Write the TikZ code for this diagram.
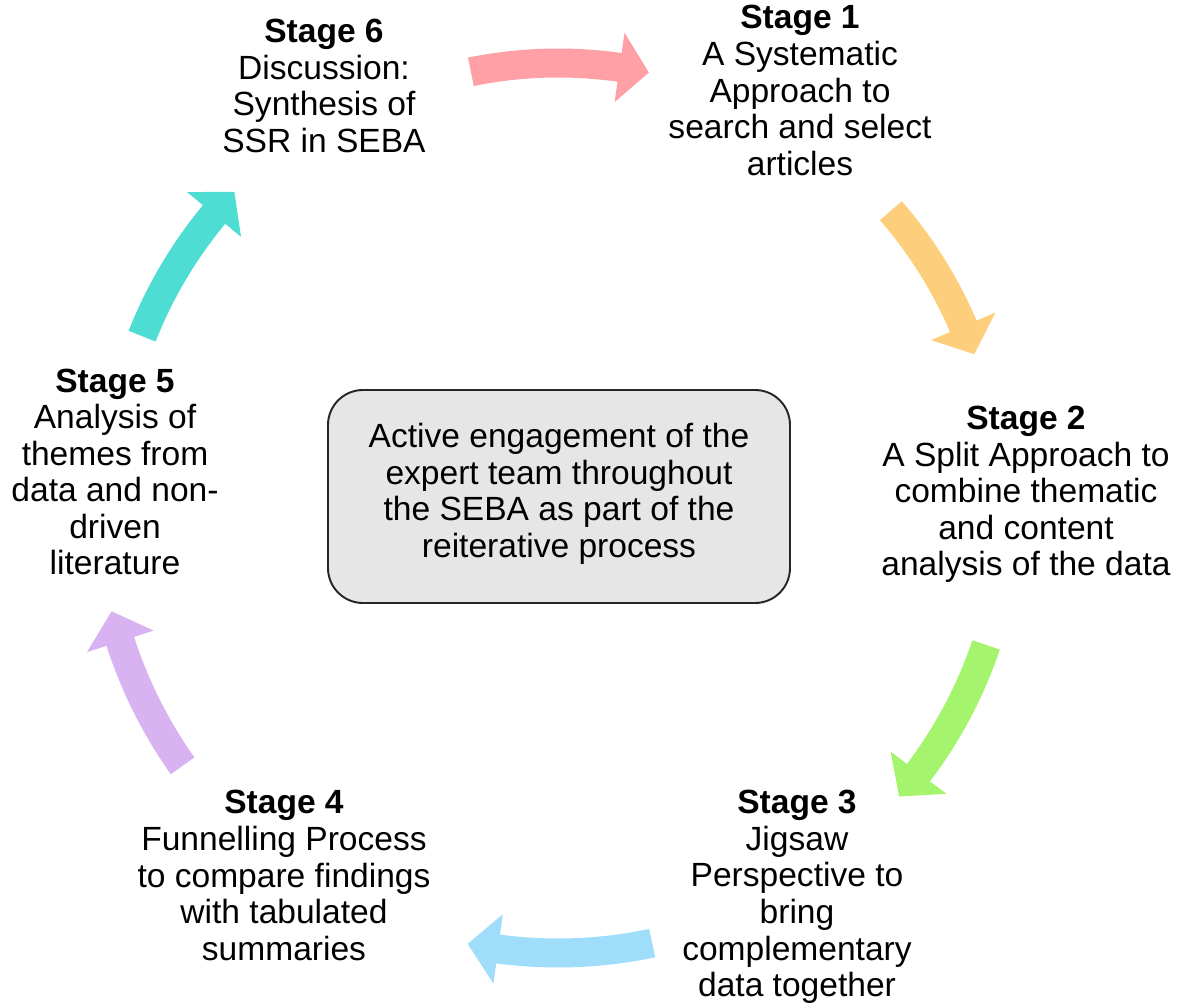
\documentclass[tikz,border=0pt]{standalone}
\usepackage{fontspec}
\setmainfont{Liberation Sans}
\definecolor{apink}{HTML}{FF9FA6}
\definecolor{aorange}{HTML}{FDCF7D}
\definecolor{agreen}{HTML}{A5F46E}
\definecolor{ablue}{HTML}{A0DDFA}
\definecolor{apurple}{HTML}{D9B2F2}
\definecolor{ateal}{HTML}{4DDDD3}
\definecolor{boxgray}{HTML}{E6E6E6}
\newcommand{\cyclearrow}[5]{% colour, radius, tail angle, tip angle, name
  \pgfmathsetmacro{\ab}{#4+3.9}
  \pgfmathsetmacro{\ro}{#2+14.5}
  \pgfmathsetmacro{\ri}{#2-14.5}
  \pgfmathsetmacro{\ho}{#2+35}
  \pgfmathsetmacro{\hi}{#2-35}
  \fill[#1] ([shift={(#3:\ro)}]ctr) arc[start angle=#3, end angle=\ab, radius=\ro]
     -- ([shift={(\ab:\ho)}]ctr) -- ([shift={(#4:#2)}]ctr) coordinate (#5)
     -- ([shift={(\ab:\hi)}]ctr) -- ([shift={(\ab:\ri)}]ctr)
     arc[start angle=\ab, end angle=#3, radius=\ri] -- cycle;
}
\begin{document}
\begin{tikzpicture}[x=0.02cm,y=0.02cm,
  txt/.style={align=center, inner sep=0pt, font=\fontsize{19.1}{20.8}\selectfont},
  centerbox/.style={draw=black!85, line width=1.1pt, fill=boxgray, rounded corners=0.7cm,
     minimum width=462*0.02cm, minimum height=213*0.02cm, inner sep=0pt}]
\useasboundingbox (0,0) rectangle (1184,-1004);
\coordinate (ctr) at (558,-500);

\node[centerbox] (box) at (559,-496.5) {};
\node[txt] (boxtxt) at (559,-494) {Active engagement of the\\expert team throughout\\the SEBA as part of the\\reiterative process};

\node[txt] (s1) at (800,-90.5) {\textbf{Stage 1}\\A Systematic\\Approach to\\search and select\\articles};
\node[txt] (s2) at (1026,-494.5) {\textbf{Stage 2}\\A Split Approach to\\combine thematic\\and content\\analysis of the data};
\node[txt] (s3) at (797,-897) {\textbf{Stage 3}\\Jigsaw\\Perspective to\\bring\\complementary\\data together};
\node[txt] (s4) at (284,-875.5) {\textbf{Stage 4}\\Funnelling Process\\to compare findings\\with tabulated\\summaries};
\node[txt] (s5) at (115,-472) {\textbf{Stage 5}\\Analysis of\\themes from\\data and non-\\driven\\literature};
\node[txt] (s6) at (324,-86) {\textbf{Stage 6}\\Discussion:\\Synthesis of\\SSR in SEBA};

\cyclearrow{apink}{437}{101.5}{78}{a61}
\cyclearrow{aorange}{441}{41}{19.3}{a12}
\cyclearrow{agreen}{452}{-18.7}{-41}{a23}
\cyclearrow{ablue}{453}{-78}{-101.5}{a34}
\cyclearrow{apurple}{460}{215.3}{194}{a45}
\cyclearrow{ateal}{447}{158.5}{136.4}{a56}
\end{tikzpicture}
\end{document}
